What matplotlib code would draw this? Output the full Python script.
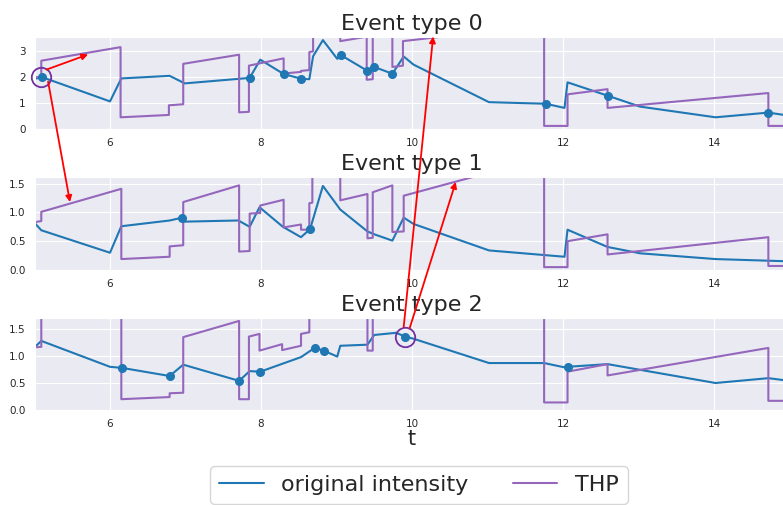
import matplotlib
matplotlib.use("Agg")
import matplotlib.pyplot as plt
import seaborn as sns
from matplotlib.patches import ConnectionPatch

sns.set_style("darkgrid")
plt.rcParams['font.family'] = ['DejaVu Sans']

titles = ["Event type 0", "Event type 1", "Event type 2"]
xticks = [6, 8, 10, 12, 14]

# Panel 0
t0_orig = [5.0, 5.10, 6.0, 6.15, 6.79, 6.99, 7.85, 7.99, 8.30, 8.53, 8.64, 8.69, 8.82, 9.01, 9.06,
           9.41, 9.50, 9.74, 9.89, 10.02, 11.02, 11.77, 12.02, 12.06, 12.59, 13.02, 14.02, 14.72, 15.0]
y0_orig = [1.93, 2.0, 1.07, 1.95, 2.05, 1.76, 1.97, 2.67, 2.12, 1.94, 1.92, 2.80, 3.42, 2.70, 2.84,
           2.24, 2.39, 2.13, 2.79, 2.48, 1.04, 0.98, 0.82, 1.80, 1.29, 0.87, 0.46, 0.64, 0.52]
t0_events = [5.10, 7.85, 8.30, 8.53, 9.06, 9.41, 9.50, 9.74, 11.77, 12.59, 14.72]
y0_events = [2.0, 1.97, 2.12, 1.94, 2.84, 2.24, 2.39, 2.13, 0.98, 1.29, 0.64]
t0_thp = [5.0, 5.09, 5.09, 6.14, 6.14, 6.78, 6.78, 6.97, 6.97, 7.71, 7.71, 7.84, 7.84, 8.30, 8.30,
          8.53, 8.53, 8.64, 8.64, 8.69, 8.69, 9.05, 9.05, 9.40, 9.40, 9.48, 9.48, 9.74, 9.74, 9.88,
          9.88, 11.75, 11.75, 12.06, 12.06, 12.59, 12.59, 14.72, 14.72, 15.0]
y0_thp = [2.0, 2.0, 2.63, 3.15, 0.46, 0.55, 0.92, 0.96, 2.51, 2.86, 0.65, 0.67, 2.44, 2.72, 2.14,
          2.20, 2.24, 2.27, 2.96, 2.99, 4.5, 4.6, 3.38, 3.55, 1.90, 1.92, 4.5, 4.6, 2.39, 2.44,
          3.38, 4.0, 0.13, 0.13, 1.34, 1.54, 0.82, 1.39, 0.13, 0.13]

# Panel 1
t1_orig = [5.0, 5.09, 6.0, 6.15, 6.79, 6.96, 6.99, 7.70, 7.85, 7.98, 8.29, 8.53, 8.65, 8.82, 9.05,
           9.41, 9.50, 9.74, 9.89, 10.02, 11.02, 12.02, 12.06, 12.59, 13.02, 14.02, 15.0]
y1_orig = [0.82, 0.69, 0.30, 0.76, 0.86, 0.91, 0.84, 0.86, 0.75, 1.09, 0.75, 0.57, 0.71, 1.46, 1.05,
           0.67, 0.62, 0.51, 0.91, 0.80, 0.34, 0.23, 0.70, 0.40, 0.29, 0.19, 0.15]
t1_events = [6.96, 8.65]
y1_events = [0.91, 0.71]
t1_thp = [5.0, 5.09, 5.09, 6.15, 6.15, 6.79, 6.79, 6.97, 6.97, 7.71, 7.71, 7.85, 7.85, 7.99, 7.99,
          8.30, 8.30, 8.53, 8.53, 8.64, 8.64, 8.68, 8.68, 9.05, 9.05, 9.41, 9.41, 9.48, 9.48, 9.74,
          9.74, 9.89, 9.89, 11.75, 11.75, 12.06, 12.06, 12.59, 12.59, 14.72, 14.72, 15.0]
y1_thp = [0.83, 0.85, 1.01, 1.41, 0.19, 0.23, 0.41, 0.43, 1.18, 1.47, 0.32, 0.33, 0.98, 0.99, 1.12,
          1.22, 0.74, 0.79, 0.70, 0.70, 1.16, 1.17, 2.0, 2.0, 1.21, 1.32, 0.55, 0.56, 1.35, 1.47,
          0.66, 0.67, 1.29, 1.95, 0.05, 0.05, 0.50, 0.62, 0.27, 0.57, 0.07, 0.07]

# Panel 2
t2_orig = [5.0, 5.09, 6.0, 6.16, 6.79, 6.97, 7.71, 7.85, 7.99, 8.53, 8.71, 8.83, 9.01, 9.05, 9.41,
           9.50, 9.79, 9.91, 10.02, 11.02, 11.75, 12.02, 12.06, 12.59, 14.02, 14.72, 15.0]
y2_orig = [1.16, 1.28, 0.80, 0.78, 0.63, 0.84, 0.54, 0.72, 0.71, 0.98, 1.15, 1.10, 0.99, 1.19, 1.21,
           1.39, 1.43, 1.36, 1.32, 0.87, 0.87, 0.79, 0.80, 0.85, 0.50, 0.59, 0.54]
t2_events = [6.16, 6.79, 7.71, 7.99, 8.71, 8.83, 9.91, 12.06]
y2_events = [0.78, 0.63, 0.54, 0.71, 1.15, 1.10, 1.36, 0.80]
t2_thp = [5.0, 5.09, 5.09, 6.15, 6.15, 6.79, 6.79, 6.97, 6.97, 7.71, 7.71, 7.84, 7.84, 7.98, 7.98,
          8.28, 8.28, 8.53, 8.53, 8.64, 8.64, 9.41, 9.41, 9.48, 9.48, 11.75, 11.75, 12.06, 12.06,
          12.59, 12.59, 14.72, 14.72, 15.0]
y2_thp = [1.16, 1.17, 2.5, 2.6, 0.20, 0.24, 0.31, 0.32, 1.35, 1.65, 0.20, 0.20, 1.36, 1.41, 1.10,
          1.22, 1.11, 1.19, 1.41, 1.44, 2.5, 2.6, 1.10, 1.10, 2.5, 2.6, 0.14, 0.14, 0.71, 0.85,
          0.64, 1.15, 0.17, 0.17]

orig_t = [t0_orig, t1_orig, t2_orig]
orig_y = [y0_orig, y1_orig, y2_orig]
ev_t = [t0_events, t1_events, t2_events]
ev_y = [y0_events, y1_events, y2_events]
thp_t = [t0_thp, t1_thp, t2_thp]
thp_y = [y0_thp, y1_thp, y2_thp]
ylims = [3.55, 1.61, 1.71]
yticks = [[0, 1, 2, 3], [0.0, 0.5, 1.0, 1.5], [0.0, 0.5, 1.0, 1.5]]
yticklabels = [["0", "1", "2", "3"], ["0.0", "0.5", "1.0", "1.5"], ["0.0", "0.5", "1.0", "1.5"]]

BLUE = "#1f77b4"
PURPLE = "#9467bd"

W, H = 783, 505
fig = plt.figure(figsize=(W / 100, H / 100), dpi=100)
left = 34.5 / W
width = 755.0 / W
tops = [36.7, 177.3, 317.7]
bottoms = [129.3, 270.0, 410.0]
axes = []
for i in range(3):
    ax = fig.add_axes([left, 1 - bottoms[i] / H, width, (bottoms[i] - tops[i]) / H])
    l1, = ax.plot(orig_t[i], orig_y[i], color=BLUE, lw=1.5, label="original intensity")
    l2, = ax.plot(thp_t[i], thp_y[i], color=PURPLE, lw=1.5, label="THP")
    ax.plot(ev_t[i], ev_y[i], 'o', color=BLUE, ms=5.5)
    ax.set_xlim(5, 15)
    ax.set_ylim(0, ylims[i])
    ax.set_xticks(xticks)
    ax.set_xticklabels([str(v) for v in xticks])
    ax.set_yticks(yticks[i])
    ax.set_yticklabels(yticklabels[i])
    ax.tick_params(labelsize=7.5, pad=3)
    ax.set_title(titles[i], fontsize=16, pad=5)
    axes.append(ax)
    if i == 0:
        handles = [l1, l2]

axes[2].set_xlabel("t", fontsize=15, labelpad=0)

# circles
axes[0].plot([5.09], [2.0], 'o', ms=14, mfc='none', mec='#7030a0', mew=1.3, clip_on=False, zorder=5)
axes[2].plot([9.91], [1.36], 'o', ms=14, mfc='none', mec='#7030a0', mew=1.3, clip_on=False, zorder=5)

# arrows
arrows = [
    ((5.16, 2.29), 0, (5.71, 2.87), 0),
    ((5.18, 1.83), 0, (5.47, 1.18), 1),
    ((9.89, 1.54), 2, (10.28, 3.56), 0),
    ((9.97, 1.52), 2, (10.58, 1.53), 1),
]
for a, ia, b, ib in arrows:
    con = ConnectionPatch(xyA=a, coordsA=axes[ia].transData, xyB=b, coordsB=axes[ib].transData,
                          arrowstyle='-|>', color='red', lw=1.3, mutation_scale=9,
                          shrinkA=0, shrinkB=0, zorder=10)
    fig.add_artist(con)

fig.legend(handles, ["original intensity", "THP"], loc='upper center',
           bbox_to_anchor=(419 / W, 1 - 455 / H), ncol=2, fontsize=16,
           frameon=True, facecolor='white', edgecolor='#cccccc')

fig.savefig("out.png", dpi=100)
